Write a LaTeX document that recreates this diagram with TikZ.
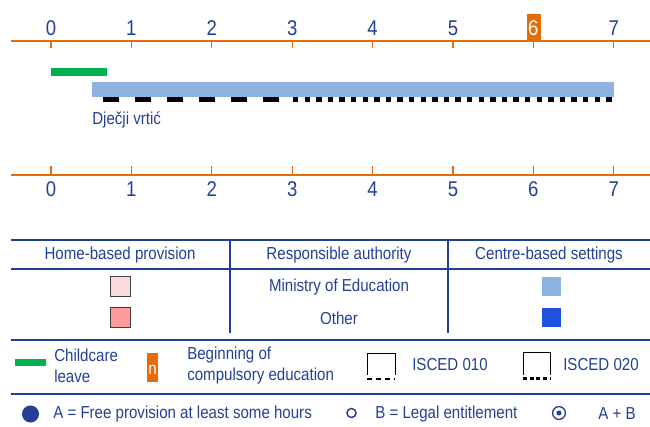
\documentclass[tikz,border=0pt]{standalone}
\usepackage{fontspec}
\setmainfont[FakeStretch=0.87]{Liberation Sans}
\usepackage{tikz}
\usepackage{xcolor}
\definecolor{txtblue}{RGB}{35,64,150}
\definecolor{ruleblue}{RGB}{31,63,148}
\definecolor{ageorange}{RGB}{228,108,10}
\definecolor{leavegreen}{RGB}{0,176,80}
\definecolor{ecblue}{RGB}{141,179,226}
\definecolor{otherblue}{RGB}{32,80,224}
\definecolor{homepink}{RGB}{250,220,222}
\definecolor{otherpink}{RGB}{255,155,155}

\begin{document}
\begin{tikzpicture}[x=0.75pt, y=-0.75pt,
    lbl/.style={text=txtblue, font=\fontsize{13}{15.75}\selectfont, inner sep=0pt},
    num/.style={text=txtblue, font=\fontsize{16}{18}\selectfont, inner sep=0pt},
    axisline/.style={draw=ageorange, line width=1.5pt},
    tick/.style={draw=ageorange, line width=1pt},
    rule/.style={draw=ruleblue, line width=1.5pt},
    swatch/.style={draw=black!75, line width=0.75pt}]
    \useasboundingbox (0,0) rectangle (650,426);
    % top age axis
    \draw[axisline] (11,41) -- (650,41);
    \fill[ageorange] (527,14) rectangle (541,41); % compulsory age
    \foreach \a in {0,...,5,7}{
        \node[num] (top\a) at (51+80.4*\a,28) {\a};
    }
    \node[num, text=white] (top6) at (533.4,28) {6};
    \foreach \a in {0,...,7}
        \draw[tick] (51+80.4*\a,41) -- (51+80.4*\a,48);
    % bars
    \fill[leavegreen] (51,68) rectangle (107,76); % Childcare leave
    \fill[ecblue] (92,82) rectangle (614,97); % Djecji vrtic
    \draw[line width=3.75pt, dash pattern=on 12pt off 12pt] (103,99.5) -- (279,99.5); % ISCED 010
    \draw[line width=3.75pt, dash pattern=on 4.1pt off 4.6pt] (293,99.5) -- (615,99.5); % ISCED 020
    \node[lbl, anchor=west] (vrtic) at (92,120) {Dječji vrtić};
    % bottom age axis
    \draw[axisline] (11,174.5) -- (650,174.5);
    \foreach \a in {0,...,7}{
        \draw[tick] (51+80.4*\a,166) -- (51+80.4*\a,174.5);
        \node[num] (bot\a) at (51+80.4*\a,189) {\a};
    }
    % table
    \draw[rule] (11,239.5) -- (650,239.5);
    \draw[rule] (11,269) -- (650,269);
    \draw[rule] (11,339.5) -- (650,339.5);
    \draw[rule] (229.5,239.5) -- (229.5,333);
    \draw[rule] (448,239.5) -- (448,333);
    \node[lbl] (home) at (120,255) {Home-based provision};
    \node[lbl] (auth) at (339,255) {Responsible authority};
    \node[lbl] (centre) at (549,255) {Centre-based settings};
    \node[lbl] (ministry) at (339,287) {Ministry of Education};
    \node[lbl] (other) at (339,318) {Other};
    \draw[swatch, fill=homepink] (110,276) rectangle (130,296);
    \draw[swatch, fill=otherpink] (110,307) rectangle (130,327);
    \fill[ecblue] (542,277) rectangle (561,296);
    \fill[otherblue] (542,308) rectangle (561,327);
    % legend
    \fill[leavegreen] (15,359) rectangle (46,366);
    \node[lbl, anchor=west, align=left] (leave) at (54,366) {Childcare\\leave};
    \fill[ageorange] (147,353) rectangle (158,382);
    \node[lbl, text=white] (compn) at (152.5,370) {n};
    \node[lbl, anchor=west, align=left] (compulsory) at (187,366) {Beginning of\\compulsory education};
    \draw[line width=0.75pt] (367,375) -- (367,353) -- (395,353) -- (395,375);
    \draw[line width=1.5pt, dash pattern=on 3.75pt off 3pt] (367,378.5) -- (395,378.5);
    \node[lbl, anchor=west] (isced010) at (412,365) {ISCED 010};
    \draw[line width=0.75pt] (523,375) -- (523,352) -- (550,352) -- (550,375);
    \draw[line width=2.25pt, dash pattern=on 3pt off 2pt] (523,378) -- (550,378);
    \node[lbl, anchor=west] (isced020) at (563,365) {ISCED 020};
    \draw[rule] (11,394) -- (650,394);
    \fill[txtblue] (30.5,414) circle (6.4pt);
    \node[lbl, anchor=west] (free) at (53,414) {A = Free provision at least some hours};
    \draw[txtblue, line width=1.1pt] (351.5,413) circle (3.4pt);
    \node[lbl, anchor=west] (legal) at (375,414) {B = Legal entitlement};
    \draw[txtblue, line width=1pt] (559,413) circle (4.8pt);
    \fill[txtblue] (559,413) circle (1.9pt);
    \node[lbl, anchor=west] (aplusb) at (598,414) {A + B};
\end{tikzpicture}
\end{document}
